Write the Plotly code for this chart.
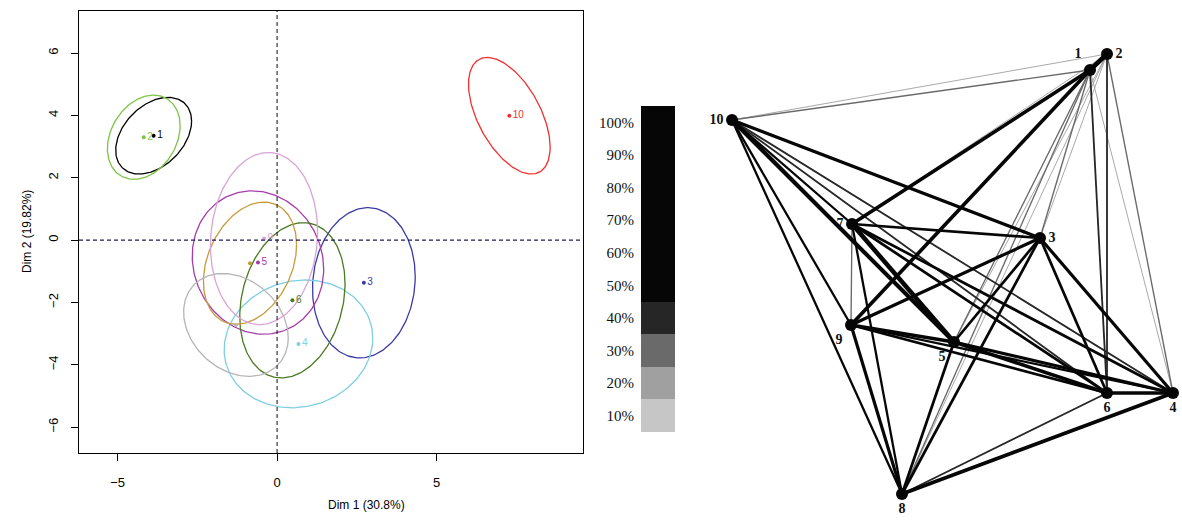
import numpy as np
import plotly.graph_objects as go

# ---------------- data ----------------
ids = ["1", "2", "3", "4", "5", "6", "7", "8", "9", "10"]
# confidence ellipses on the factor map (centre, half-extent in x / y, correlation)
ell_cx = [-3.87, -4.18, 2.72, 0.67, -0.60, 0.48, -0.85, -1.29, -0.41, 7.28]
ell_cy = [3.35, 3.30, -1.37, -3.33, -0.72, -1.93, -0.74, -2.72, 0.05, 3.99]
ell_sx = [1.19, 1.14, 1.61, 2.33, 2.06, 1.65, 1.46, 1.64, 1.68, 1.28]
ell_sy = [1.23, 1.35, 2.41, 2.05, 2.30, 2.49, 1.96, 1.65, 2.76, 1.87]
ell_r = [0.38, 0.27, 0.08, 0.09, -0.09, 0.21, 0.30, -0.25, 0.08, -0.54]
label_shown = [True, True, True, True, True, True, False, False, True, True]

x_ticks = [-5, 0, 5]
y_ticks = [-6, -4, -2, 0, 2, 4, 6]

levels = ["10%", "20%", "30%", "40%", "50%", "60%", "70%", "80%", "90%", "100%"]
level_pct = [10, 20, 30, 40, 50, 60, 70, 80, 90, 100]

# network layout coordinates of the nodes (layout units)
node_x = [390, 407, 340, 473, 254, 407, 152, 202, 151, 32]
node_y = [453, 469, 285, 130, 181, 130, 299, 29, 198, 403]

edge_from = ["1", "1", "1", "1", "1", "1", "1", "1", "1",
             "2", "2", "2", "2", "2", "2", "2", "2",
             "3", "3", "3", "3", "3", "3", "3",
             "4", "4", "4", "4", "4", "4",
             "5", "5", "5", "5", "5",
             "6", "6", "6", "6",
             "7", "7", "7",
             "8", "8",
             "9"]
edge_to = ["2", "3", "4", "5", "6", "7", "8", "9", "10",
           "3", "4", "5", "6", "7", "8", "9", "10",
           "4", "5", "6", "7", "8", "9", "10",
           "5", "6", "7", "8", "9", "10",
           "6", "7", "8", "9", "10",
           "7", "8", "9", "10",
           "8", "9", "10",
           "9", "10",
           "10"]
edge_pct = [100, 30, 20, 30, 40, 80, 30, 80, 30,
            20, 30, 20, 40, 20, 20, 20, 20,
            70, 60, 60, 60, 60, 70, 70,
            70, 80, 60, 80, 50, 40,
            80, 100, 60, 80, 90,
            60, 40, 60, 40,
            50, 30, 50,
            70, 50,
            50]

# ---------------- styles ----------------
point_colors = ["#000000", "#7cc444", "#3a3aa6", "#7dcfe2", "#a63ca8",
                "#4a7a22", "#c99a3a", "#b5b5b5", "#d8a4d8", "#f03030"]
level_colors = {10: "#c6c6c6", 20: "#a0a0a0", 30: "#6a6a6a", 40: "#262626",
                50: "#060606", 60: "#060606", 70: "#060606", 80: "#060606",
                90: "#060606", 100: "#060606"}
node_textpos = ["top left", "middle right", "middle right", "bottom center",
                "bottom left", "bottom center", "middle left", "bottom center",
                "bottom left", "middle left"]

W, H = 1182, 523
fig = go.Figure()

# ---------------- left: factor map with ellipses ----------------
t = np.linspace(0, 2 * np.pi, 200)
for i in range(len(ids)):
    ex = ell_cx[i] + ell_sx[i] * np.cos(t)
    ey = ell_cy[i] + ell_sy[i] * (ell_r[i] * np.cos(t) + np.sqrt(1 - ell_r[i] ** 2) * np.sin(t))
    fig.add_trace(go.Scatter(x=ex, y=ey, mode="lines",
                             line=dict(color=point_colors[i], width=1.3),
                             hoverinfo="skip", xaxis="x", yaxis="y"))
fig.add_trace(go.Scatter(
    x=ell_cx, y=ell_cy, mode="markers+text",
    text=[s if show else "" for s, show in zip(ids, label_shown)],
    textposition="middle right",
    textfont=dict(family="Liberation Sans, Arial", size=10, color=point_colors),
    marker=dict(size=4, color=point_colors),
    xaxis="x", yaxis="y", cliponaxis=False))

shapes = [
    dict(type="line", xref="x", yref="y domain", x0=0, x1=0, y0=0, y1=1,
         line=dict(color="#2a2020", width=1.1, dash="4px,3px")),
    dict(type="line", xref="x domain", yref="y", x0=0, x1=1, y0=0, y1=0,
         line=dict(color="#1c1c60", width=1.1, dash="4px,3px")),
]

# ---------------- middle: percentage scale ----------------
lo, hi = level_pct[0] - 5, level_pct[-1] + 5
cscale = []
for p in level_pct:
    a = (p - 5 - lo) / (hi - lo)
    b = (p + 5 - lo) / (hi - lo)
    cscale += [[a, level_colors[p]], [b, level_colors[p]]]
fig.add_trace(go.Heatmap(
    z=[[p] for p in level_pct], y=levels, x=[0], zmin=lo, zmax=hi,
    colorscale=cscale, showscale=False, hoverinfo="skip",
    xaxis="x2", yaxis="y2"))

# ---------------- right: network ----------------
idx = {k: i for i, k in enumerate(ids)}
for p in sorted(set(edge_pct)):
    xs, ys = [], []
    for a, b, q in zip(edge_from, edge_to, edge_pct):
        if q == p:
            xs += [node_x[idx[a]], node_x[idx[b]], None]
            ys += [node_y[idx[a]], node_y[idx[b]], None]
    fig.add_trace(go.Scatter(x=xs, y=ys, mode="lines",
                             line=dict(color=level_colors[p], width=p / 22),
                             hoverinfo="skip", xaxis="x3", yaxis="y3"))
fig.add_trace(go.Scatter(
    x=node_x, y=node_y, mode="markers+text", text=ids,
    textposition=node_textpos,
    textfont=dict(family="Liberation Serif, Times New Roman", size=14, color="#111111", weight="bold"),
    marker=dict(size=12, color="#050505"),
    xaxis="x3", yaxis="y3", cliponaxis=False))

axis_font = dict(family="Liberation Sans, Arial", size=13, color="black")
fig.update_layout(
    width=W, height=H, margin=dict(l=0, r=0, t=0, b=0),
    paper_bgcolor="white", plot_bgcolor="white", showlegend=False,
    shapes=shapes,
    xaxis=dict(domain=[79 / W, 583 / W], range=[-6.21, 9.59], tickvals=x_ticks,
               ticks="outside", ticklen=7, tickcolor="black", showline=True, mirror=True,
               linecolor="black", linewidth=1, showgrid=False, zeroline=False,
               tickfont=axis_font, ticklabelstandoff=10),
    yaxis=dict(domain=[1 - 453 / H, 1 - 11 / H], range=[-6.83, 7.35], tickvals=y_ticks,
               tickangle=-90, ticks="outside", ticklen=7, tickcolor="black", showline=True,
               mirror=True, linecolor="black", linewidth=1, showgrid=False, zeroline=False,
               tickfont=axis_font, ticklabelstandoff=8),
    xaxis2=dict(domain=[641 / W, 675 / W], visible=False),
    yaxis2=dict(domain=[1 - 432 / H, 1 - 106 / H], type="category",
                categoryorder="array", categoryarray=levels, range=[-0.5, 9.5],
                showline=False, showgrid=False, zeroline=False, ticks="",
                tickfont=dict(family="Liberation Serif, Times New Roman", size=15, color="#111111"),
                ticklabelstandoff=6, anchor="x2"),
    xaxis3=dict(domain=[700 / W, 1], range=[0, 482], visible=False),
    yaxis3=dict(domain=[0, 1], range=[0, 523], visible=False, anchor="x3"),
    annotations=[
        dict(text="Dim 1 (30.8%)", x=326 / W, y=1 - 514 / H, xref="paper", yref="paper",
             showarrow=False, font=dict(family="Liberation Sans, Arial", size=12, color="black")),
        dict(text="Dim 2 (19.82%)", x=18 / W, y=1 - 232 / H, xref="paper", yref="paper",
             textangle=-90, showarrow=False,
             font=dict(family="Liberation Sans, Arial", size=12, color="black")),
    ],
)

fig.write_html("out.html", config={"displayModeBar": False},
               post_script="document.body.style.margin='0px';document.body.style.overflow='hidden';")
